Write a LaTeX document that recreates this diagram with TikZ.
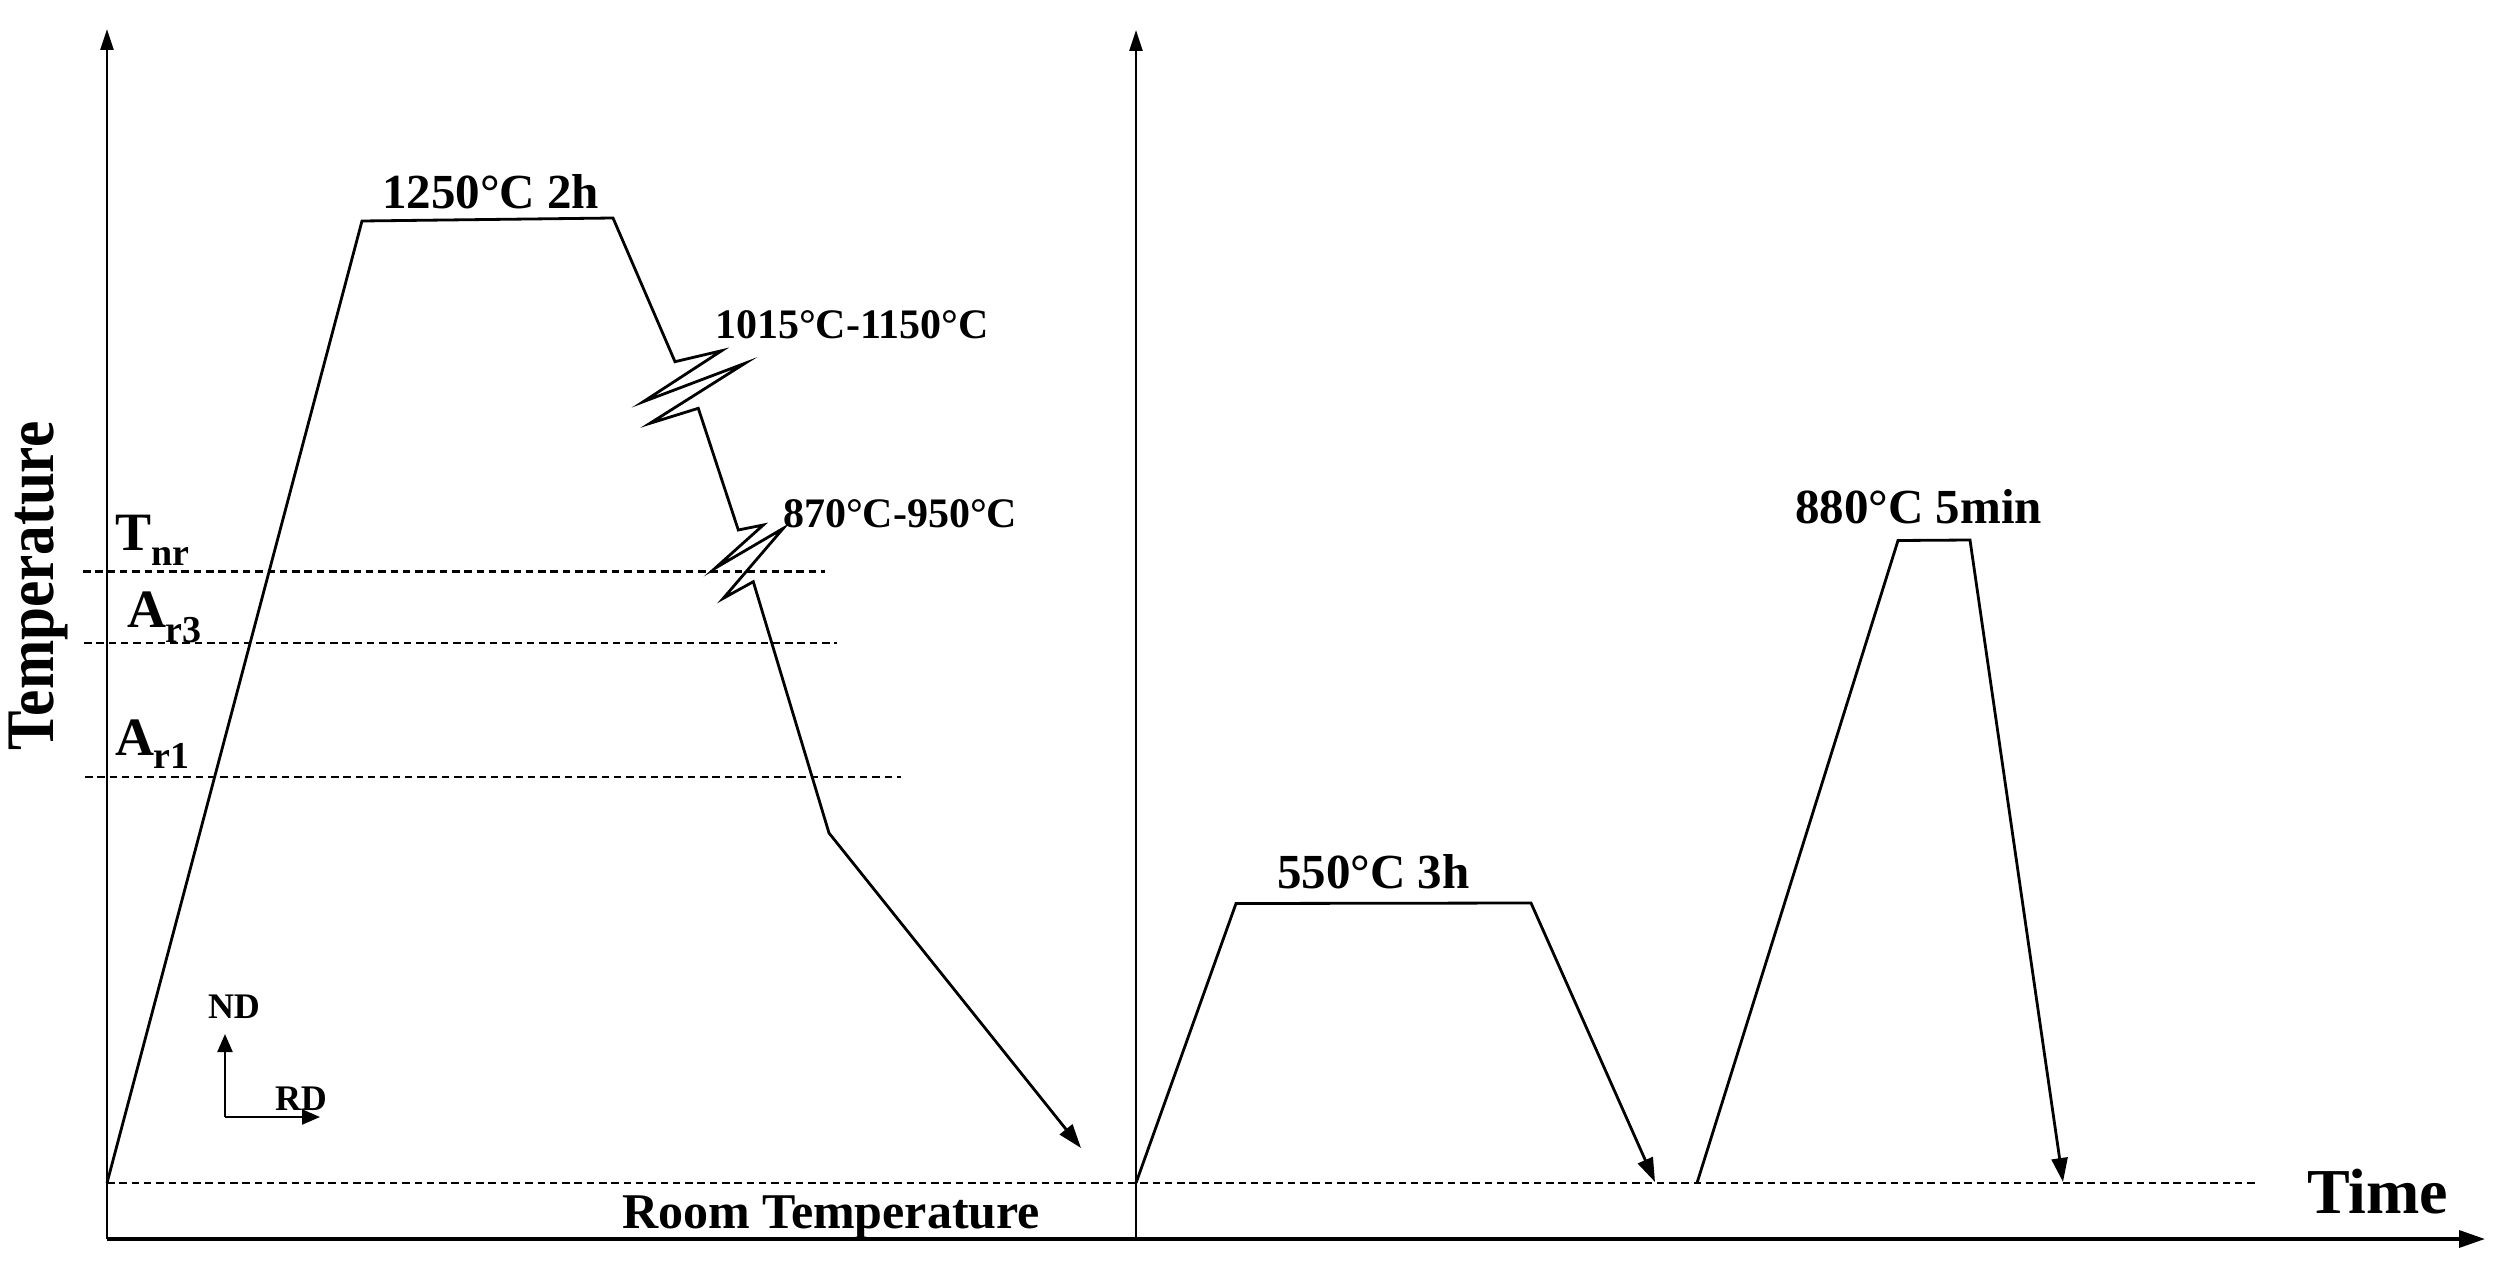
\documentclass[tikz,border=0pt]{standalone}
\usepackage{fontspec}
\setmainfont{Liberation Serif}
\usetikzlibrary{arrows.meta}
\newcommand{\fs}[1]{\fontsize{#1}{#1}\selectfont\bfseries}
\begin{document}
\begin{tikzpicture}[x=1pt,y=-1pt,
  curve/.style={line width=2.8pt,line join=miter},
  axis/.style={line width=2.6pt},
  guide/.style={line width=2.2pt,dash pattern=on 7.5pt off 4.8pt},
  bigtip/.style={-{Triangle[length=21pt,width=13pt]}},
  endtip/.style={-{Triangle[length=24pt,width=16pt]}},
  lbl/.style={anchor=base west,inner sep=0pt,outer sep=0pt}]
\useasboundingbox[fill=white] (0,0) rectangle (2512,1263);

% axes
\coordinate (O1) at (107,1239);
\coordinate (Y1) at (107,29);
\coordinate (O2) at (1136,1239);
\coordinate (Y2) at (1136,30);
\coordinate (X) at (2485,1239);
\draw[axis,bigtip] (O1) -- (Y1);
\draw[axis,bigtip] (O2) -- (Y2);
\draw[line width=3.4pt,-{Triangle[length=26pt,width=17pt]}] (O1) -- (X);

% guide lines
\coordinate (Tn0) at (83,571.5);  \coordinate (Tn1) at (825,571.5);
\coordinate (A30) at (84,643);    \coordinate (A31) at (837,643);
\coordinate (A10) at (85,777);    \coordinate (A11) at (901,777);
\coordinate (R0) at (107,1183);   \coordinate (R1) at (2258,1183);
\draw[guide] (Tn0) -- (Tn1);
\draw[guide] (A30) -- (A31);
\draw[guide] (A10) -- (A11);
\draw[guide] (R0) -- (R1);

% left process
\coordinate (p0) at (107,1183);
\coordinate (p1) at (362,221);
\coordinate (p2) at (613,218);
\coordinate (z1) at (675,361.7);
\coordinate (z2) at (721.7,350.7);
\coordinate (z3) at (643.3,401.7);
\coordinate (z4) at (745,363.3);
\coordinate (z5) at (650,423.3);
\coordinate (z6) at (698.3,408.3);
\coordinate (w1) at (738.3,530);
\coordinate (w2) at (763.3,525);
\coordinate (w3) at (715,568.3);
\coordinate (w4) at (783.3,528.3);
\coordinate (w5) at (723.3,598.3);
\coordinate (w6) at (753.3,581.7);
\coordinate (p3) at (829,833);
\coordinate (p4) at (1081,1148);
\draw[curve,endtip] (p0) -- (p1) -- (p2) -- (z1) -- (z2) -- (z3) -- (z4) -- (z5) -- (z6)
  -- (w1) -- (w2) -- (w3) -- (w4) -- (w5) -- (w6) -- (p3) -- (p4);

% right processes
\coordinate (q0) at (1136,1183);
\coordinate (q1) at (1236,903.5);
\coordinate (q2) at (1531,903);
\coordinate (q3) at (1655,1182);
\draw[curve,endtip] (q0) -- (q1) -- (q2) -- (q3);
\coordinate (r0) at (1697,1183);
\coordinate (r1) at (1898,540.5);
\coordinate (r2) at (1970,540);
\coordinate (r3) at (2063,1182);
\draw[curve,endtip] (r0) -- (r1) -- (r2) -- (r3);

% ND / RD sample axes
\coordinate (nd0) at (225,1117);
\coordinate (nd1) at (225,1034);
\coordinate (rd1) at (320,1117);
\draw[line width=2.2pt,-{Triangle[length=18pt,width=15pt]}] (nd0) -- (nd1);
\draw[line width=2.2pt,-{Triangle[length=18pt,width=15pt]}] (nd0) -- (rd1);

% labels
\node[lbl] (t1250) at (382,208) {\fs{49}1250°C 2h};
\node[lbl] (t1015) at (715,338) {\fs{42}1015°C-1150°C};
\node[lbl] (t870) at (783,527) {\fs{42}870°C-950°C};
\node[lbl] (tnr) at (115,550) {\fs{54}T\raisebox{-15pt}{\fs{38}nr}};
\node[lbl] (tar3) at (127,627) {\fs{54}A\raisebox{-15pt}{\fs{38}r3}};
\node[lbl] (tar1) at (115,755) {\fs{54}A\raisebox{-13pt}{\fs{38}r1}};
\node[lbl] (tnd) at (208,1018) {\fs{36}ND};
\node[lbl] (trd) at (275,1110) {\fs{36}RD};
\node[lbl] (troom) at (622,1228) {\fs{50}Room Temperature};
\node[lbl] (t550) at (1277,888) {\fs{49}550°C 3h};
\node[lbl] (t880) at (1795,523) {\fs{49}880°C 5min};
\node[lbl] (ttime) at (2307,1213) {\fs{64}Time};
\node[anchor=base,inner sep=0pt,rotate=90] (ttemp) at (53,586) {\scalebox{0.87}[1]{\fs{68}Temperature}};
\end{tikzpicture}
\end{document}
